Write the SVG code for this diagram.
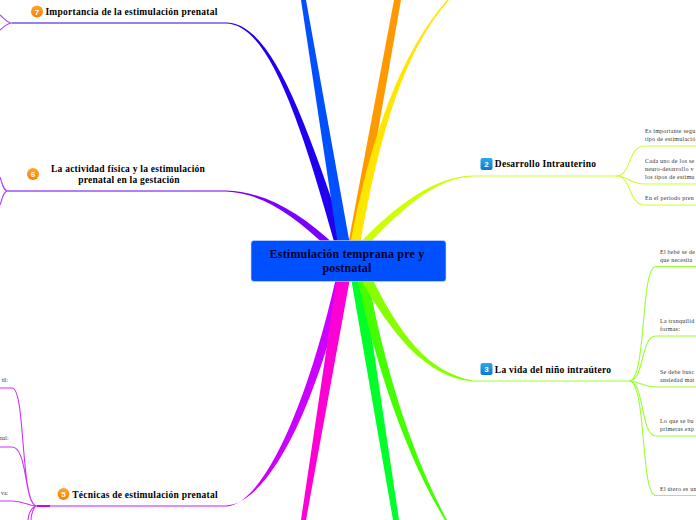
<svg xmlns="http://www.w3.org/2000/svg" width="696" height="520" viewBox="0 0 696 520">
<style>
text{font-family:"Liberation Serif",serif}
.t{font-size:9.5px;font-weight:bold;fill:#000;text-anchor:middle;letter-spacing:.25px}
.s{font-size:6px;fill:#333;letter-spacing:.25px}
.r{text-anchor:end;font-size:5.7px;letter-spacing:0}
.n{font-size:8px;font-family:"Liberation Sans",sans-serif;fill:#fff;text-anchor:middle;font-weight:bold}
.c{fill:none;stroke-width:1.1}
.g2{stroke:#ccff33}.g3{stroke:#99ff33}.g5{stroke:#cc33ff}
</style>
<defs>
<linearGradient id="o" x1="0" y1="0" x2="0" y2="1"><stop offset="0" stop-color="#ffa62e"/><stop offset="1" stop-color="#ff8000"/></linearGradient>
<linearGradient id="b" x1="0" y1="0" x2="0" y2="1"><stop offset="0" stop-color="#2fa8e8"/><stop offset="1" stop-color="#0a78d0"/></linearGradient>
</defs>
<g id="connectors">
<path fill="#ff9900" d="M394,0L401,0L358,245L348,245Z"/>
<path fill="#ffe600" d="M447,0L449,0C405,50 380,130 360,245L350,245C372,130 402,52 447,0Z"/>
<path fill="#ccff00" d="M473,175.600L473,176.600C440,177 405,205 368,245L358,245C397,204 435,176.500 473,175.600Z"/>
<path fill="#2000f0" d="M226,22.500C268,23 300,102 347,245L335,245C297,108 266,24 226,23.500Z"/>
<path fill="#0050ff" d="M301,0L306,0L350,245L338,245Z"/>
<path fill="#7a00ff" d="M226,190.500C268,192 302,215 335,245L325,245C296,218 264,193 226,191.500Z"/>
<path fill="#cc00ff" d="M226,505.500C266,503 312,420 346,278L336,278C306,410 262,505 226,506.500Z"/>
<path fill="#ff00d4" d="M337,278L350,278L306,520L301,520Z"/>
<path fill="#00ff2a" d="M351,278L393,520L399,520L363,278Z"/>
<path fill="#44ff00" d="M357,278C377,370 407,458 445,520L447,520C412,455 385,370 368,278Z"/>
<path fill="#88ff00" d="M473,380.600C428,372 400,335 372,278L360,278C392,335 426,377 473,381.600Z"/>
<path class="c g2" d="M473,176H622"/>
<path class="c g3" d="M473,381H630"/>
<path d="M37,506H50" stroke="#cc00ff" stroke-width="2" fill="none"/>
<path d="M50,506H226" stroke="#dd66ff" stroke-width="1.5" fill="none"/>
<path class="c" stroke="#3300ee" d="M12,23H226"/>
<path class="c" stroke="#6a00ee" d="M8,191H226"/>
<path class="c" stroke="#aa44ff" d="M12,23C7,23 4,18 0,15M12,23C7,23 4,27 0,30M8,191C3,191 2,182 0,177M8,191C3,191 2,200 0,205"/>
<path class="c g2" d="M616,176C632,176 627,146 645,146H696M616,176C628,176 630,184 645,184H696M616,176C632,176 628,205 645,205H696"/>
<path class="c g3" d="M629,381C647,381 640,266.500 656,266.500H696M629,381C645,381 640,336 656,336H696M629,381C640,381 642,387 656,387H696M629,381C645,381 640,436 656,436H696M629,381C647,381 640,495.500 656,495.500H696"/>
<path class="c g5" d="M37,506C20,506 26,388 12,388H0M37,506C24,506 28,447 12,447H0M37,506C28,506 24,501 12,501H0M37,506C32,506 28,514 28,520M37,506C34,506 31,514 31,520"/>
</g>
<g id="root">
<rect x="251" y="240.500" width="195" height="41" rx="3" fill="#0050ff" stroke="#cfe0ff" stroke-width=".6"/>
<text x="347" y="258" font-size="12" font-weight="bold" text-anchor="middle" letter-spacing=".2" fill="#00002a">Estimulación temprana pre y</text>
<text x="347" y="272" font-size="12" font-weight="bold" text-anchor="middle" letter-spacing=".2" fill="#00002a">postnatal</text>
</g>
<g id="n7"><circle cx="37" cy="11.500" r="6" fill="url(#o)"/><text class="n" x="37" y="14.500">7</text><text class="t" x="131.500" y="15">Importancia de la estimulación prenatal</text></g>
<g id="n6"><circle cx="33" cy="174" r="6" fill="url(#o)"/><text class="n" x="33" y="177">6</text><text class="t" x="128" y="172">La actividad física y la estimulación</text><text class="t" x="129" y="183">prenatal en la gestación</text></g>
<g id="n5"><circle cx="63.500" cy="494" r="6" fill="url(#o)"/><text class="n" x="63.500" y="497">5</text><text class="t" x="145" y="498">Técnicas de estimulación prenatal</text></g>
<g id="n5a"><text class="s r" x="8" y="382">til:</text></g>
<g id="n5b"><text class="s r" x="8.500" y="440">nal:</text></g>
<g id="n5c"><text class="s r" x="8" y="495">va:</text></g>
<g id="n2"><rect x="480.500" y="158" width="12" height="12" rx="2" fill="url(#b)"/><text class="n" x="486.500" y="167">2</text><text class="t" x="545.500" y="167">Desarrollo Intrauterino</text></g>
<g id="n2a"><text class="s" x="645" y="133">Es importante segu</text><text class="s" x="645" y="141">tipo de estimulació</text></g>
<g id="n2b"><text class="s" x="645" y="163">Cada uno de los se</text><text class="s" x="645" y="171">neuro-desarrollo v</text><text class="s" x="645" y="179">los tipos de estimu</text></g>
<g id="n2c"><text class="s" x="645" y="200">En el período pren</text></g>
<g id="n3"><rect x="480.500" y="363" width="12" height="12" rx="2" fill="url(#b)"/><text class="n" x="486.500" y="372">3</text><text class="t" x="553" y="373">La vida del niño intraútero</text></g>
<g id="n3a"><text class="s" x="660" y="254">El bebé se de</text><text class="s" x="660" y="262">que necesita</text></g>
<g id="n3b"><text class="s" x="660" y="323">La tranquilid</text><text class="s" x="660" y="331">formas:</text></g>
<g id="n3c"><text class="s" x="660" y="374">Se debe busc</text><text class="s" x="660" y="382">ansiedad mat</text></g>
<g id="n3d"><text class="s" x="660" y="423">Lo que se bu</text><text class="s" x="660" y="431">primeras exp</text></g>
<g id="n3e"><text class="s" x="660" y="491">El útero es un</text></g>
</svg>
